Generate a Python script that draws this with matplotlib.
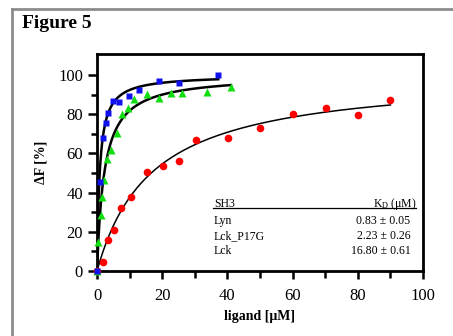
import numpy as np
import matplotlib
matplotlib.use("Agg")
import matplotlib.pyplot as plt
from matplotlib.lines import Line2D

plt.rcParams['font.family'] = ['Liberation Serif', 'DejaVu Serif']
plt.rcParams['mathtext.fontset'] = 'custom'
plt.rcParams['mathtext.rm'] = 'Liberation Serif'
plt.rcParams['mathtext.it'] = 'Liberation Serif:italic'

# Lyn SH3 (blue squares)
lyn_x = [0, 1.0, 1.7, 2.8, 3.5, 5.0, 6.8, 9.8, 12.9, 19.0, 25.1, 37.2]
lyn_y = [0, 45.5, 67.7, 75.7, 80.4, 86.6, 86.4, 89.5, 92.3, 96.9, 96.1, 100.2]

# Lck_P17G SH3 (green triangles)
p17g_x = [0, 0.4, 1.1, 1.4, 2.2, 3.2, 4.2, 6.0, 7.8, 9.6, 11.4, 15.2, 19.0, 22.6, 26.2, 33.6, 41.1]
p17g_y = [0, 15.0, 28.6, 37.9, 46.4, 57.1, 61.7, 70.6, 79.9, 83.0, 87.6, 90.1, 88.1, 90.6, 91.0, 91.5, 93.7]

# Lck SH3 (red circles)
lck_x = [0, 1.7, 3.5, 5.3, 7.3, 10.3, 15.2, 20.3, 25.3, 30.4, 40.1, 50.0, 60.2, 70.2, 80.2, 90.0]
lck_y = [0, 4.7, 15.8, 20.9, 32.0, 37.9, 50.4, 53.6, 56.3, 66.8, 67.7, 72.8, 80.0, 83.0, 79.8, 87.1]

# fit parameters (Kd from the table, Fmax)
names = ['Lyn', 'Lck_P17G', 'Lck']
kd = [0.83, 2.23, 16.80]
kd_err = [0.05, 0.26, 0.61]
fmax = [100, 100, 100.5]
fit_end = [37.2, 41.1, 90.0]

fig = plt.figure(figsize=(4.53, 3.36), dpi=100)
ax = fig.add_axes([97/453, 65/336, 326/453, 217/336])

# gray frame around the figure
fig.add_artist(Line2D([12/453, 1], [1 - 9/336] * 2, transform=fig.transFigure, color='#8c8c8c', lw=2))
fig.add_artist(Line2D([12/453] * 2, [0, 1 - 9/336], transform=fig.transFigure, color='#8c8c8c', lw=2))
fig.text(22/453, 1 - 28/336, 'Figure 5', fontsize=14, fontweight='bold', va='baseline')

# fitted curves
for k, f, end, lw in zip(kd, fmax, fit_end, [1.8, 1.8, 1.1]):
    xx = np.linspace(0, end, 200)
    ax.plot(xx, f * xx / (k + xx), color='black', lw=lw, zorder=2)

ax.plot(lck_x, lck_y, 'o', color='#ff0000', ms=5.5, mec='none', clip_on=False, zorder=3)
ax.plot(p17g_x, p17g_y, '^', color='#11dd11', ms=5.5, mec='none', clip_on=False, zorder=3)
ax.plot(lyn_x, lyn_y, 's', color='#1111ee', ms=5, mec='none', clip_on=False, zorder=3)

ax.set_xlim(0, 100)
ax.set_ylim(0, 110.7)
ax.set_xticks([0, 20, 40, 60, 80, 100])
ax.set_xticks(np.arange(10, 100, 20), minor=True)
ax.set_yticks([0, 20, 40, 60, 80, 100])
ax.set_yticks(np.arange(10, 110, 20), minor=True)
ax.tick_params(which='major', direction='out', length=6.5, width=1.8, labelsize=12)
ax.tick_params(which='minor', direction='out', length=4.5, width=1.8)
ax.tick_params(axis='x', which='major', length=5.5, pad=7)
ax.tick_params(axis='x', which='minor', length=5)
for s in ax.spines.values():
    s.set_linewidth(2)

ax.set_xlabel('ligand [μM]', fontsize=10, fontweight='bold', labelpad=4)
ax.set_ylabel('ΔF [%]', fontsize=10, fontweight='bold', labelpad=8)

# Kd table
ax.text(35.9, 32.9, 'SH3', fontsize=8.5, va='baseline', ha='left')
ax.text(98.1, 32.9, r'K$_\mathrm{D}$ (μM)', fontsize=8.5, va='baseline', ha='right')
ax.plot([35.6, 98.0], [31.9, 31.9], color='black', lw=0.9)
for name, k, e, yy in zip(names, kd, kd_err, [24.0, 16.2, 8.5]):
    ax.text(35.9, yy, name, fontsize=8.5, va='baseline', ha='left')
    ax.text(96.2, yy, f'{k:.2f} ± {e:.2f}', fontsize=8.5, va='baseline', ha='right')

fig.savefig('out.png', dpi=100)
